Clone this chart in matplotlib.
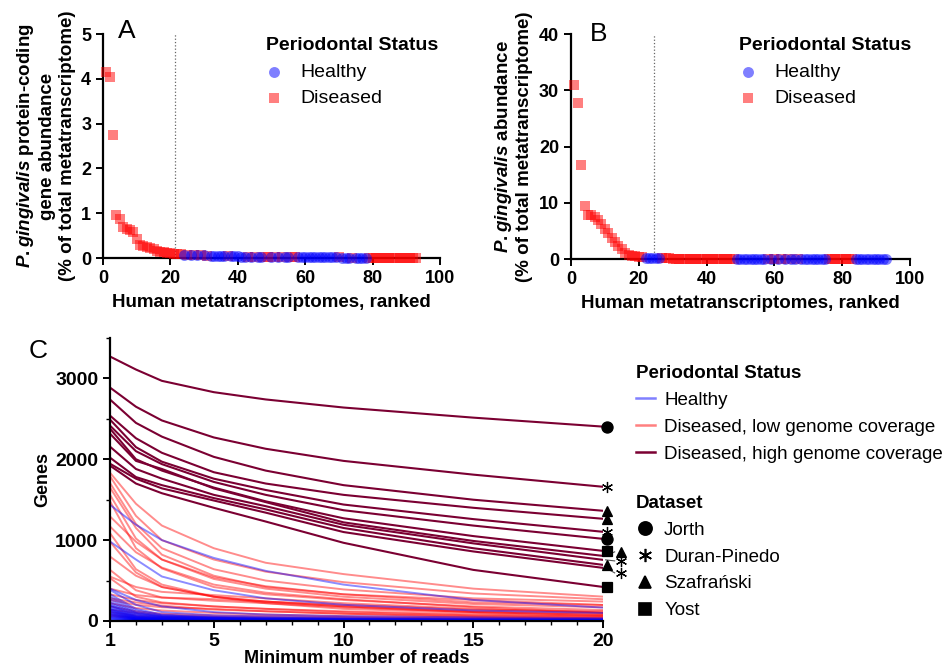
import matplotlib.pyplot as plt
from matplotlib.lines import Line2D

plt.rcParams['font.family'] = 'Liberation Sans'
plt.rcParams['mathtext.fontset'] = 'custom'
plt.rcParams['mathtext.it'] = 'Liberation Sans:italic:bold'
plt.rcParams['mathtext.rm'] = 'Liberation Sans:bold'

# ---- data: panel A (protein-coding gene abundance, ranked samples) ----
ranks = list(range(1, 94))
a_vals = [4.15, 4.05, 2.75, 0.95, 0.88, 0.70, 0.65, 0.62, 0.58, 0.42, 0.30, 0.27,
          0.25, 0.23, 0.20, 0.16, 0.14, 0.13, 0.12, 0.11, 0.10, 0.09,
          0.08, 0.07, 0.07, 0.07, 0.06, 0.06, 0.06, 0.06, 0.05,
          0.05, 0.05, 0.05, 0.04, 0.04, 0.04, 0.04, 0.04, 0.04, 0.03, 0.03,
          0.03, 0.03, 0.03, 0.03, 0.03, 0.03, 0.03, 0.03, 0.03, 0.03, 0.02,
          0.02, 0.02, 0.02, 0.02,
          0.02, 0.02, 0.02, 0.02, 0.02, 0.02, 0.02, 0.02, 0.02, 0.02, 0.02,
          0.02, 0.02, 0.01, 0.01, 0.01, 0.01, 0.01, 0.01, 0.01, 0.01,
          0.01, 0.01, 0.01, 0.01, 0.01, 0.01, 0.01, 0.01, 0.01, 0.01, 0.01,
          0.01, 0.01, 0.01, 0.01]
a_status = list('DDDDDDDDDDDDDDDDDDDDDD'
                'DHDHDHDHD'
                'HHHHHDHHHHH'
                'DHDHHDDHDHDHHDD'
                'HHHHHHHHHHHHDHHHDHHHH'
                'DDDDDDDDDDDDDDD')
a_cut = 21.5

# ---- data: panel B (P. gingivalis abundance, ranked samples) ----
b_vals = [31.0, 27.8, 16.8, 9.4, 7.8, 7.8, 7.4, 6.9, 6.2, 5.4, 4.6, 3.8, 3.0,
          2.3, 1.7, 1.1, 0.8, 0.6, 0.45, 0.35, 0.30,
          0.25, 0.22, 0.18, 0.15, 0.12,
          0.10, 0.10, 0.10, 0.09, 0.09, 0.09, 0.08, 0.08, 0.08, 0.08, 0.07,
          0.07, 0.07, 0.07, 0.06, 0.06, 0.06, 0.06, 0.05, 0.05, 0.05, 0.05,
          0.05, 0.05, 0.05, 0.04, 0.04, 0.04, 0.04, 0.04, 0.04,
          0.04, 0.04, 0.03, 0.03, 0.03, 0.03, 0.03, 0.03, 0.03, 0.03, 0.03,
          0.03, 0.03, 0.02, 0.02, 0.02, 0.02, 0.02,
          0.02, 0.02, 0.02, 0.02, 0.02, 0.02, 0.02, 0.02,
          0.01, 0.01, 0.01, 0.01, 0.01, 0.01, 0.01, 0.01, 0.01, 0.01]
b_status = list('DDDDDDDDDDDDDDDDDDDDD'
                'HHHHH'
                'DDDDDDDDDDDDDDDDDDDDDD'
                'HHHHHHHHH'
                'DHDHDHDHHDH'
                'HHHHHHH'
                'DDDDDDDD'
                'HHHHHHHHHH')
b_cut = 24.5

# ---- data: panel C (genes detected vs minimum number of reads) ----
min_reads = [1, 2, 3, 5, 7, 10, 15, 20]

high_cov = [
    [3271, 3110, 2970, 2830, 2740, 2640, 2515, 2404],
    [2887, 2650, 2480, 2270, 2130, 1980, 1810, 1660],
    [2739, 2450, 2280, 2030, 1860, 1680, 1500, 1363],
    [2540, 2260, 2080, 1840, 1700, 1560, 1400, 1264],
    [2491, 2150, 1970, 1760, 1620, 1440, 1260, 1103],
    [2416, 2100, 1940, 1720, 1560, 1370, 1180, 1016],
    [2379, 2000, 1860, 1650, 1480, 1270, 1050, 867],
    [2317, 1980, 1880, 1640, 1470, 1220, 990, 805],
    [2156, 1880, 1760, 1560, 1420, 1190, 960, 756],
    [2020, 1780, 1680, 1520, 1380, 1150, 900, 694],
    [1945, 1760, 1640, 1490, 1340, 1100, 860, 657],
    [1921, 1700, 1580, 1400, 1230, 967, 632, 421],
]
high_dataset = ['Jorth', 'Duran-Pinedo', 'Szafrański', 'Szafrański', 'Duran-Pinedo', 'Jorth',
                'Yost', 'Szafrański', 'Duran-Pinedo', 'Szafrański', 'Duran-Pinedo', 'Yost']

low_cov = [
    [1834, 1450, 1180, 900, 720, 580, 400, 301],
    [1790, 1300, 1000, 760, 610, 480, 340, 269],
    [1706, 1200, 900, 640, 500, 390, 280, 240],
    [1650, 1150, 820, 560, 420, 330, 260, 198],
    [1560, 1020, 760, 520, 400, 300, 210, 170],
    [1480, 900, 650, 420, 330, 260, 180, 136],
    [1293, 980, 760, 540, 430, 330, 230, 198],
    [1169, 850, 660, 450, 350, 270, 170, 103],
    [1086, 640, 450, 300, 240, 180, 110, 74],
    [980, 600, 420, 300, 220, 150, 100, 60],
    [797, 560, 420, 300, 240, 180, 120, 90],
    [632, 380, 290, 250, 220, 170, 110, 74],
    [549, 420, 360, 320, 280, 220, 150, 103],
    [530, 300, 230, 180, 150, 110, 70, 53],
    [400, 320, 290, 270, 240, 200, 140, 120],
    [330, 260, 220, 180, 150, 120, 80, 53],
    [281, 230, 190, 140, 120, 90, 60, 33],
    [260, 200, 170, 150, 120, 90, 50, 33],
    [220, 160, 130, 100, 80, 60, 40, 25],
    [180, 120, 90, 70, 60, 45, 30, 20],
    [140, 100, 70, 50, 40, 30, 20, 15],
    [110, 70, 50, 40, 30, 20, 15, 10],
    [80, 50, 35, 25, 20, 15, 10, 8],
    [60, 35, 25, 18, 15, 12, 8, 5],
]

healthy = [
    [1437, 1190, 1000, 780, 620, 450, 260, 165],
    [983, 760, 550, 380, 280, 200, 130, 99],
    [400, 260, 180, 110, 80, 60, 45, 35],
    [384, 200, 110, 70, 55, 40, 28, 21],
    [330, 150, 80, 50, 40, 30, 22, 18],
    [300, 130, 70, 45, 35, 28, 20, 15],
    [270, 110, 60, 40, 30, 22, 15, 12],
    [240, 100, 55, 35, 26, 20, 14, 10],
    [220, 90, 50, 30, 22, 16, 12, 9],
    [200, 80, 45, 28, 20, 15, 10, 8],
    [190, 70, 40, 25, 18, 13, 9, 7],
    [180, 60, 35, 22, 16, 12, 8, 6],
    [160, 55, 30, 20, 14, 10, 7, 5],
    [150, 50, 28, 18, 12, 9, 6, 4],
    [140, 45, 25, 15, 10, 8, 5, 4],
    [130, 40, 22, 13, 9, 7, 5, 3],
    [120, 35, 20, 12, 8, 6, 4, 3],
    [110, 30, 18, 10, 7, 5, 3, 2],
    [100, 28, 15, 9, 6, 4, 3, 2],
    [90, 25, 13, 8, 5, 4, 2, 2],
    [80, 22, 12, 7, 5, 3, 2, 1],
    [70, 20, 10, 6, 4, 3, 2, 1],
    [60, 18, 9, 5, 3, 2, 1, 1],
    [50, 15, 8, 4, 3, 2, 1, 1],
    [40, 12, 6, 3, 2, 1, 1, 0],
    [30, 10, 5, 3, 2, 1, 0, 0],
    [20, 8, 4, 2, 1, 1, 0, 0],
    [10, 5, 2, 1, 1, 0, 0, 0],
]

# ---- styles ----
dataset_marker = {'Jorth': 'o', 'Duran-Pinedo': (6, 2, 0), 'Szafrański': '^', 'Yost': 's'}
dataset_ms = {'Jorth': 8, 'Duran-Pinedo': 8, 'Szafrański': 7, 'Yost': 7}
# a few end markers pushed aside (index: dx, dy) to avoid overlap
marker_shift = {7: (0.7, 50), 8: (0.7, -13), 10: (0.7, -62)}
dark = '#7b0032'


def style_axes(ax, size=13):
    for s in ['top', 'right']:
        ax.spines[s].set_visible(False)
    for s in ['left', 'bottom']:
        ax.spines[s].set_linewidth(1.6)
    ax.tick_params(which='major', length=5, width=1.4, labelsize=size, direction='out')
    ax.tick_params(which='minor', length=3, width=1.0, direction='out')
    for lab in ax.get_xticklabels() + ax.get_yticklabels():
        lab.set_fontweight('bold')


def ranked_panel(ax, vals, status, cut):
    d = [(r, v) for r, v, s in zip(ranks, vals, status) if s == 'D']
    h = [(r, v) for r, v, s in zip(ranks, vals, status) if s == 'H']
    sd = ax.scatter([p[0] for p in d], [p[1] for p in d], marker='s', s=55,
                    color='red', alpha=0.5, lw=0, clip_on=False, zorder=3)
    sh = ax.scatter([p[0] for p in h], [p[1] for p in h], marker='o', s=62,
                    color='blue', alpha=0.5, lw=0, clip_on=False, zorder=3)
    ax.axvline(cut, color='#666666', ls=':', lw=0.9)
    ax.set_xlim(0, 100)
    ax.set_xticks([0, 20, 40, 60, 80, 100])
    ax.set_xlabel('Human metatranscriptomes, ranked', fontsize=13.5, fontweight='bold', labelpad=5)
    return sh, sd


def status_legend(handles, anchor):
    fig.legend(handles, ['Healthy', 'Diseased'], loc='upper left', bbox_to_anchor=anchor,
               frameon=False, title='Periodontal Status',
               title_fontproperties={'weight': 'bold', 'size': 14}, fontsize=14,
               alignment='left', borderaxespad=0, borderpad=0, handlelength=0.9,
               handletextpad=0.9, labelspacing=0.45)


fig = plt.figure(figsize=(9.45, 6.66), dpi=100)

# Panel A
axA = fig.add_axes([0.109, 0.6126, 0.3566, 0.3363])
hA, dA = ranked_panel(axA, a_vals, a_status, a_cut)
axA.set_ylim(0, 5)
axA.set_yticks([0, 1, 2, 3, 4, 5])
axA.set_ylabel('$P. gingivalis$ protein-coding\ngene abundance\n(% of total metatranscriptome)',
               fontsize=13.5, fontweight='bold', linespacing=1.2, labelpad=4)
style_axes(axA)
fig.text(0.125, 0.943, 'A', fontsize=19)
status_legend([hA, dA], (0.281, 0.944))

# Panel B
axB = fig.add_axes([0.6042, 0.6111, 0.3587, 0.3378])
hB, dB = ranked_panel(axB, b_vals, b_status, b_cut)
axB.set_ylim(0, 40)
axB.set_yticks([0, 10, 20, 30, 40])
axB.set_ylabel('$P. gingivalis$ abundance\n(% of total metatranscriptome)',
               fontsize=13.5, fontweight='bold', linespacing=1.2, labelpad=4)
style_axes(axB)
fig.text(0.624, 0.938, 'B', fontsize=19)
status_legend([hB, dB], (0.782, 0.944))

# Panel C
axC = fig.add_axes([0.1164, 0.0676, 0.5217, 0.4249])
for row in low_cov:
    axC.plot(min_reads, row, color='red', alpha=0.45, lw=1.4)
for row in healthy:
    axC.plot(min_reads, row, color='blue', alpha=0.45, lw=1.4)
for row in high_cov:
    axC.plot(min_reads, row, color=dark, lw=1.5)

for i, (row, ds) in enumerate(zip(high_cov, high_dataset)):
    dx, dy = marker_shift.get(i, (0.15, 0))
    mx, my = 20 + dx, row[-1] + dy
    if i in marker_shift:
        axC.plot([20.1, mx - 0.25], [row[-1], my], color='#555555', lw=0.8, clip_on=False)
    axC.plot(mx, my, marker=dataset_marker[ds], ms=dataset_ms[ds], color='black',
             mew=0.9, ls='none', clip_on=False, zorder=5)

axC.set_xlim(1, 20)
axC.set_ylim(0, 3500)
axC.set_xticks([1, 5, 10, 15, 20])
axC.set_xticks(range(1, 21), minor=True)
axC.set_yticks([0, 1000, 2000, 3000])
axC.set_yticks([500, 1500, 2500, 3500], minor=True)
axC.set_xlabel('Minimum number of reads', fontsize=13, fontweight='bold', labelpad=0)
axC.set_ylabel('Genes', fontsize=13, fontweight='bold', labelpad=3)
style_axes(axC, size=14)
fig.text(0.030, 0.463, 'C', fontsize=19)

status_handles = [Line2D([], [], color='#8080ff', lw=1.8),
                  Line2D([], [], color='#ff8080', lw=1.8),
                  Line2D([], [], color=dark, lw=1.8)]
fig.legend(status_handles, ['Healthy', 'Diseased, low genome coverage', 'Diseased, high genome coverage'],
           loc='upper left', bbox_to_anchor=(0.673, 0.452), frameon=False,
           title='Periodontal Status', title_fontproperties={'weight': 'bold', 'size': 13.5},
           fontsize=13.5, alignment='left', borderaxespad=0, borderpad=0, handlelength=1.0,
           handletextpad=0.5, labelspacing=0.52)

ds_names = ['Jorth', 'Duran-Pinedo', 'Szafrański', 'Yost']
ds_handles = [Line2D([], [], marker=dataset_marker[n], ms=dataset_ms[n] + 1.5, color='black',
                     ls='none', mew=1.2) for n in ds_names]
fig.legend(ds_handles, ds_names, loc='upper left', bbox_to_anchor=(0.673, 0.257), frameon=False,
           title='Dataset', title_fontproperties={'weight': 'bold', 'size': 13.5},
           fontsize=13.5, alignment='left', borderaxespad=0, borderpad=0, handlelength=1.0,
           handletextpad=0.5, labelspacing=0.52)

fig.savefig('out.png', dpi=100)
